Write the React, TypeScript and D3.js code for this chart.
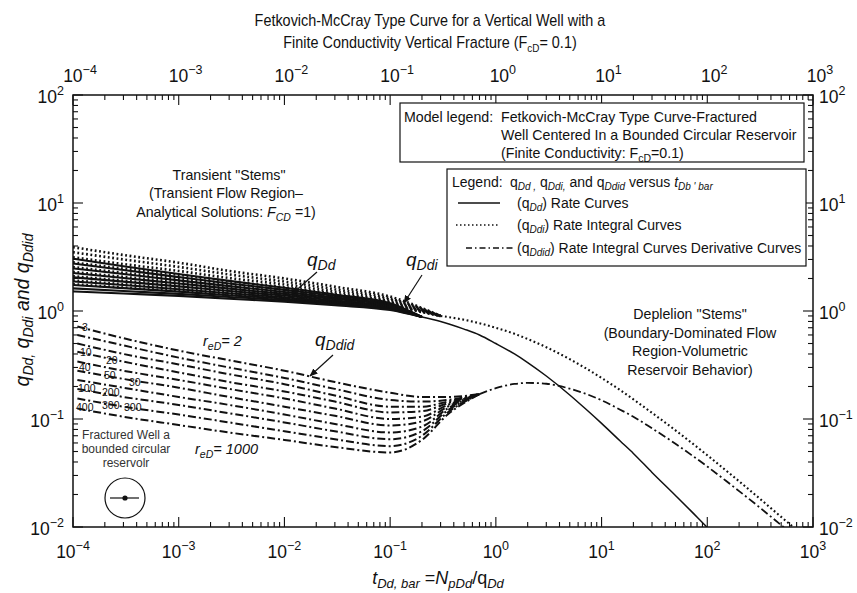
import React from 'react';
import * as d3 from 'd3';

const W = 857;
const H = 593;

// Axis decades
const xExponents = [-4, -3, -2, -1, 0, 1, 2, 3];
const yExponents = [-2, -1, 0, 1, 2];

// Transient stems: rate curves q_Dd (solid)
const tTrans = [1e-4, 3e-4, 1e-3, 3e-3, 1e-2, 3e-2, 0.1];
const qDdTransient = [
  [3.05, 2.6, 2.2, 1.9, 1.64, 1.42, 1.18],
  [2.75, 2.4, 2.06, 1.8, 1.57, 1.38, 1.16],
  [2.48, 2.2, 1.92, 1.7, 1.5, 1.33, 1.14],
  [2.25, 2.02, 1.8, 1.61, 1.44, 1.29, 1.12],
  [2.05, 1.87, 1.69, 1.53, 1.39, 1.25, 1.1],
  [1.88, 1.74, 1.59, 1.46, 1.34, 1.22, 1.08],
  [1.74, 1.63, 1.51, 1.4, 1.3, 1.19, 1.06],
  [1.62, 1.53, 1.44, 1.35, 1.26, 1.16, 1.04],
  [1.52, 1.45, 1.38, 1.3, 1.22, 1.13, 1.02],
];
// Depletion stem of q_Dd
const tRateStem = [0.2, 0.3, 0.5, 0.7, 1, 1.5, 2, 3, 5, 7, 10, 15, 20, 30, 50, 70, 100, 120];
const qDdStem = [0.88, 0.8, 0.68, 0.6, 0.5, 0.4, 0.333, 0.25, 0.167, 0.125, 0.091, 0.0625, 0.048, 0.032, 0.0196, 0.0141, 0.0099, 0.0083];

// Transient stems: rate integral q_Ddi (dotted)
const qDdiTransient = [
  [3.9, 3.3, 2.8, 2.35, 2.0, 1.68, 1.36],
  [3.5, 3.0, 2.56, 2.18, 1.87, 1.59, 1.31],
  [3.15, 2.72, 2.35, 2.02, 1.76, 1.51, 1.27],
  [2.82, 2.47, 2.16, 1.88, 1.66, 1.44, 1.23],
  [2.55, 2.26, 1.99, 1.76, 1.57, 1.38, 1.2],
  [2.3, 2.07, 1.85, 1.65, 1.49, 1.33, 1.17],
  [2.1, 1.91, 1.73, 1.56, 1.42, 1.28, 1.14],
  [1.92, 1.77, 1.62, 1.48, 1.36, 1.24, 1.12],
  [1.77, 1.65, 1.53, 1.41, 1.31, 1.2, 1.1],
];
const tIntStem = [0.3, 0.5, 0.7, 1, 1.5, 2, 3, 5, 7, 10, 15, 20, 30, 50, 70, 100, 150, 200, 300, 500, 700];
const qDdiStem = [0.9, 0.83, 0.77, 0.7, 0.615, 0.55, 0.462, 0.358, 0.297, 0.24, 0.185, 0.152, 0.114, 0.0786, 0.0609, 0.0462, 0.0334, 0.0265, 0.019, 0.0124, 0.0094];

// Transient stems: rate integral derivative q_Ddid (dash-dot)
const tDerTrans = [1.1e-4, 3e-4, 1e-3, 3e-3, 1e-2, 3e-2, 0.1, 0.2, 0.35];
const qDdidTransient = [
  [0.72, 0.56, 0.43, 0.35, 0.28, 0.22, 0.175, 0.16, 0.16],
  [0.6, 0.48, 0.37, 0.3, 0.24, 0.19, 0.15, 0.145, 0.15],
  [0.5, 0.4, 0.32, 0.26, 0.21, 0.165, 0.13, 0.13, 0.145],
  [0.42, 0.34, 0.27, 0.22, 0.18, 0.145, 0.115, 0.118, 0.14],
  [0.34, 0.28, 0.23, 0.19, 0.155, 0.125, 0.1, 0.105, 0.135],
  [0.28, 0.235, 0.195, 0.16, 0.13, 0.107, 0.087, 0.095, 0.13],
  [0.23, 0.195, 0.16, 0.135, 0.11, 0.09, 0.075, 0.085, 0.125],
  [0.19, 0.16, 0.135, 0.113, 0.093, 0.077, 0.065, 0.077, 0.12],
  [0.155, 0.13, 0.11, 0.093, 0.077, 0.065, 0.056, 0.07, 0.115],
  [0.125, 0.105, 0.088, 0.075, 0.064, 0.055, 0.049, 0.064, 0.11],
];
const tDerStem = [0.7, 1, 1.5, 2, 3, 5, 7, 10, 15, 20, 30, 50, 70, 100, 150, 200, 300, 500, 600];
const qDdidStem = [0.17, 0.193, 0.211, 0.216, 0.212, 0.191, 0.172, 0.149, 0.122, 0.105, 0.082, 0.059, 0.0468, 0.0363, 0.0268, 0.0215, 0.0157, 0.0104, 0.009];

// r_eD labels next to the derivative stems
const reDLabels = ['3', '10', '20', '40', '50', '30', '100', '200', '400', '300', '300'];
const reDLabelPos: [number, number][] = [[82, 331], [80, 356], [106, 364], [79, 371], [104, 379], [129, 386], [78, 392], [102, 396], [76, 411], [102, 409], [124, 411]];

const FONT = "'Liberation Sans', Arial, Helvetica, sans-serif";
const DASHDOT = '8,3,2,3';
const DOTTED = '1.8,2.6';

export default function App() {
  const x = d3.scaleLog().domain([1e-4, 1e3]).range([73, 813]);
  const y = d3.scaleLog().domain([1e-2, 1e2]).range([527, 95]);
  const line = d3
    .line<[number, number]>()
    .x((d) => x(d[0]))
    .y((d) => y(d[1]))
    .curve(d3.curveMonotoneX);

  const isMajor = (v: number) => Math.abs(Math.log10(v) - Math.round(Math.log10(v))) < 1e-6;
  const xt = x.ticks();
  const yt = y.ticks();
  const [x0, x1] = x.range();
  const [y0, y1] = y.range();

  const zip = (ts: number[], qs: number[]): [number, number][] => ts.map((t, i) => [t, qs[i]]);

  const supLabel = (e: number) => (e < 0 ? '\u2212' + Math.abs(e) : String(e));

  return (
    <svg width={W} height={H} style={{ position: 'absolute', left: 0, top: 0, background: '#fff' }} fontFamily={FONT}>
      <defs>
        <clipPath id="plot">
          <rect x={x0} y={y1} width={x1 - x0} height={y0 - y1} />
        </clipPath>
        <marker id="arr" viewBox="0 0 10 10" refX="9" refY="5" markerWidth="7" markerHeight="7" orient="auto">
          <path d="M0,1 L10,5 L0,9 z" fill="#111" />
        </marker>
      </defs>
      <rect x={0} y={0} width={W} height={H} fill="#fff" />

      {/* Title */}
      <text x={430} y={26} textAnchor="middle" fontSize={16} fill="#111" transform="translate(430,0) scale(0.9,1) translate(-430,0)">
        Fetkovich-McCray Type Curve for a Vertical Well with a
      </text>
      <text x={430} y={48} textAnchor="middle" fontSize={16} fill="#111" transform="translate(430,0) scale(0.9,1) translate(-430,0)">
        Finite Conductivity Vertical Fracture (F<tspan dy={4} fontSize={11}>cD</tspan>
        <tspan dy={-4}>= 0.1)</tspan>
      </text>

      {/* Curves */}
      <g clipPath="url(#plot)" fill="none" stroke="#111">
        {qDdTransient.map((qs, i) => (
          <path key={'s' + i} d={line([...zip(tTrans, qs), [tRateStem[0], qDdStem[0]]]) || ''} strokeWidth={2.1} />
        ))}
        <path d={line(zip(tRateStem, qDdStem)) || ''} strokeWidth={1.5} />
        {qDdiTransient.map((qs, i) => (
          <path key={'i' + i} d={line([...zip(tTrans, qs), [tIntStem[0], qDdiStem[0]]]) || ''} strokeWidth={2.6} strokeDasharray={DOTTED} />
        ))}
        <path d={line(zip(tIntStem, qDdiStem)) || ''} strokeWidth={2.1} strokeDasharray={DOTTED} />
        {qDdidTransient.map((qs, i) => (
          <path key={'d' + i} d={line([...zip(tDerTrans, qs), [tDerStem[0], qDdidStem[0]]]) || ''} strokeWidth={2} strokeDasharray={DASHDOT} />
        ))}
        <path d={line(zip(tDerStem, qDdidStem)) || ''} strokeWidth={1.8} strokeDasharray={DASHDOT} />
      </g>

      {/* Frame and ticks */}
      <rect x={x0} y={y1} width={x1 - x0} height={y0 - y1} fill="none" stroke="#111" strokeWidth={1.5} />
      {xt.map((v, i) => {
        const L = isMajor(v) ? 10 : 5;
        const px = x(v);
        return (
          <g key={'xt' + i} stroke="#111" strokeWidth={1.1}>
            <line x1={px} x2={px} y1={y0} y2={y0 - L} />
            <line x1={px} x2={px} y1={y1} y2={y1 + L} />
          </g>
        );
      })}
      {yt.map((v, i) => {
        const L = isMajor(v) ? 10 : 5;
        const py = y(v);
        return (
          <g key={'yt' + i} stroke="#111" strokeWidth={1.1}>
            <line x1={x0} x2={x0 + L} y1={py} y2={py} />
            <line x1={x1} x2={x1 - L} y1={py} y2={py} />
          </g>
        );
      })}

      {/* Tick labels */}
      {xExponents.map((e) => (
        <g key={'xl' + e} fontSize={17.5} fill="#111">
          <text x={x(Math.pow(10, e))} y={558} textAnchor="middle">
            10<tspan dy={-8} fontSize={12.5}>{supLabel(e)}</tspan>
          </text>
          <text x={x(Math.pow(10, e)) + 7} y={82} textAnchor="middle">
            10<tspan dy={-8} fontSize={12.5}>{supLabel(e)}</tspan>
          </text>
        </g>
      ))}
      {yExponents.map((e) => (
        <g key={'yl' + e} fontSize={17.5} fill="#111">
          <text x={64} y={y(Math.pow(10, e)) + 8} textAnchor="end">
            10<tspan dy={-8} fontSize={12.5}>{supLabel(e)}</tspan>
          </text>
          <text x={819} y={y(Math.pow(10, e)) + 8} textAnchor="start">
            10<tspan dy={-8} fontSize={12.5}>{supLabel(e)}</tspan>
          </text>
        </g>
      ))}

      {/* Axis titles */}
      <text transform="translate(29,310) rotate(-90)" textAnchor="middle" fontSize={19.5} fontStyle="italic" fill="#111">
        q<tspan dy={4} fontSize={14}>Dd,</tspan>
        <tspan dy={-4}> q</tspan>
        <tspan dy={4} fontSize={14}>Ddi</tspan>
        <tspan dy={-4}> and q</tspan>
        <tspan dy={4} fontSize={14}>Ddid</tspan>
      </text>
      <text x={438} y={584} textAnchor="middle" fontSize={18} fill="#111">
        <tspan fontStyle="italic">t</tspan>
        <tspan dy={4} fontSize={13} fontStyle="italic">Dd,  bar</tspan>
        <tspan dy={-4}> =</tspan>
        <tspan fontStyle="italic">N</tspan>
        <tspan dy={4} fontSize={13} fontStyle="italic">pDd</tspan>
        <tspan dy={-4}>/q</tspan>
        <tspan dy={4} fontSize={13} fontStyle="italic">Dd</tspan>
      </text>

      {/* Model legend box */}
      <rect x={400} y={103} width={404} height={59} fill="#fff" stroke="#111" strokeWidth={1.2} />
      <g fontSize={14.2} fill="#111">
        <text x={404} y={122}>Model legend:</text>
        <text x={501} y={122}>Fetkovich-McCray Type Curve-Fractured</text>
        <text x={501} y={140}>Well Centered In a Bounded Circular Reservoir</text>
        <text x={501} y={158}>
          (Finite Conductivity: F<tspan dy={4} fontSize={10.5}>cD</tspan>
          <tspan dy={-4}>=0.1)</tspan>
        </text>
      </g>

      {/* Curve legend box */}
      <rect x={447} y={169} width={359} height={97} fill="#fff" stroke="#111" strokeWidth={1.2} />
      <g fontSize={14} fill="#111">
        <text x={452} y={187}>
          Legend:
          <tspan x={510}>q</tspan>
          <tspan dy={3} fontSize={10} fontStyle="italic">Dd ,</tspan>
          <tspan dy={-3}> q</tspan>
          <tspan dy={3} fontSize={10} fontStyle="italic">Ddi,</tspan>
          <tspan dy={-3}> and q</tspan>
          <tspan dy={3} fontSize={10} fontStyle="italic">Ddid</tspan>
          <tspan dy={-3}> versus </tspan>
          <tspan fontStyle="italic">t</tspan>
          <tspan dy={3} fontSize={10} fontStyle="italic">Db ' bar</tspan>
        </text>
        <line x1={458} x2={500} y1={203} y2={203} stroke="#111" strokeWidth={1.5} />
        <text x={517} y={208}>
          (q<tspan dy={3} fontSize={10} fontStyle="italic">Dd</tspan>
          <tspan dy={-3}>) Rate Curves</tspan>
        </text>
        <line x1={456} x2={500} y1={225} y2={225} stroke="#111" strokeWidth={1.6} strokeDasharray="1.5,2.5" />
        <text x={517} y={230}>
          (q<tspan dy={3} fontSize={10} fontStyle="italic">Ddi</tspan>
          <tspan dy={-3}>) Rate Integral Curves</tspan>
        </text>
        <line x1={466} x2={514} y1={248} y2={248} stroke="#111" strokeWidth={1.4} strokeDasharray="6,3,1.5,3" />
        <text x={517} y={253}>
          (q<tspan dy={3} fontSize={10} fontStyle="italic">Ddid</tspan>
          <tspan dy={-3}>) Rate Integral Curves Derivative Curves</tspan>
        </text>
      </g>

      {/* Region annotations */}
      <g fontSize={14.2} fill="#111" textAnchor="middle">
        <text x={229} y={180}>Transient "Stems"</text>
        <text x={226} y={198}>(Transient Flow Region–</text>
        <text x={226} y={217}>
          Analytical Solutions: <tspan fontStyle="italic">F</tspan>
          <tspan dy={4} fontSize={10.5} fontStyle="italic">CD</tspan>
          <tspan dy={-4}> =1)</tspan>
        </text>
        <text x={690} y={319}>Deplelion "Stems"</text>
        <text x={690} y={338}>(Boundary-Dominated Flow</text>
        <text x={690} y={356}>Region-Volumetric</text>
        <text x={690} y={375}>Reservoir Behavior)</text>
      </g>

      {/* Curve labels with arrows */}
      <g fill="#111" fontStyle="italic">
        <text x={307} y={266} fontSize={19}>
          q<tspan dy={4} fontSize={14}>Dd</tspan>
        </text>
        <line x1={317} y1={272} x2={292} y2={294} stroke="#111" strokeWidth={1.2} markerEnd="url(#arr)" />
        <text x={406} y={266} fontSize={19}>
          q<tspan dy={4} fontSize={14}>Ddi</tspan>
        </text>
        <line x1={422} y1={275} x2={404} y2={303} stroke="#111" strokeWidth={1.2} markerEnd="url(#arr)" />
        <text x={315} y={346} fontSize={19}>
          q<tspan dy={4} fontSize={14}>Ddid</tspan>
        </text>
        <line x1={333} y1={355} x2={310} y2={376} stroke="#111" strokeWidth={1.2} markerEnd="url(#arr)" />
        <text x={203} y={346} fontSize={14.5}>
          r<tspan dy={4} fontSize={10.5}>eD</tspan>
          <tspan dy={-4}>= 2</tspan>
        </text>
        <text x={195} y={454} fontSize={14.5}>
          r<tspan dy={4} fontSize={10.5}>eD</tspan>
          <tspan dy={-4}>= 1000</tspan>
        </text>
      </g>
      <g fontSize={10.5} fill="#111">
        {reDLabels.map((s, i) => (
          <text key={'r' + i} x={reDLabelPos[i][0]} y={reDLabelPos[i][1]}>
            {s}
          </text>
        ))}
      </g>

      {/* Inset: fractured well in circular reservoir */}
      <g fontSize={12} fill="#333" textAnchor="middle">
        <text x={126} y={439}>Fractured Well a</text>
        <text x={126} y={453}>bounded circular</text>
        <text x={126} y={467}>reservolr</text>
      </g>
      <circle cx={125} cy={498} r={20} fill="none" stroke="#111" strokeWidth={1.2} />
      <line x1={110} x2={139} y1={498} y2={498} stroke="#111" strokeWidth={1.2} />
      <circle cx={125} cy={498} r={2.6} fill="#111" />
    </svg>
  );
}
